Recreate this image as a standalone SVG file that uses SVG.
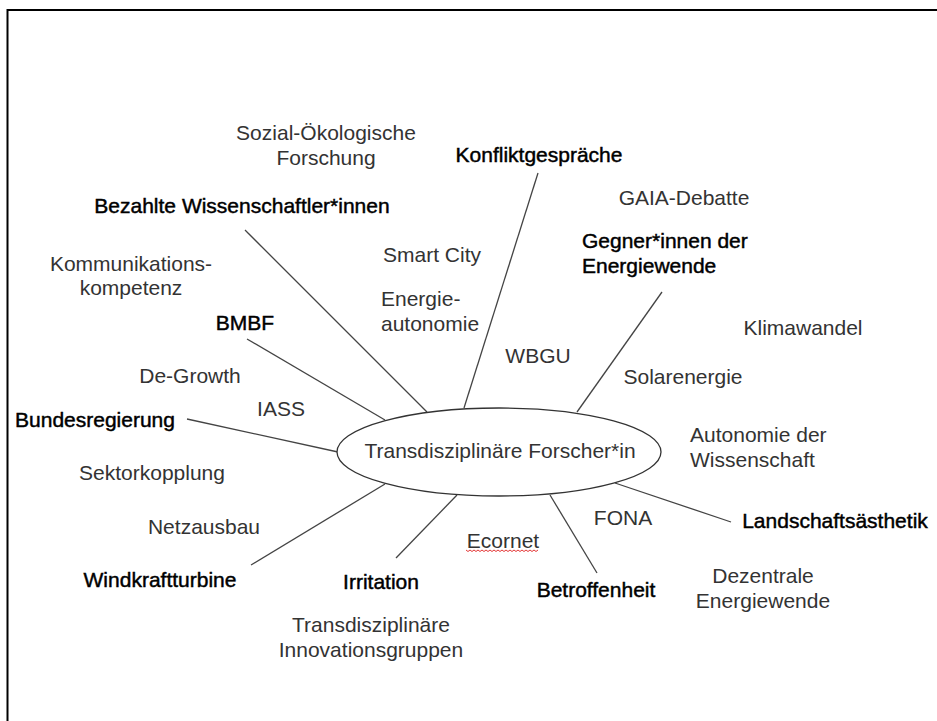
<svg xmlns="http://www.w3.org/2000/svg" width="937" height="721" viewBox="0 0 937 721">
<style>
text{font-family:"Liberation Sans",Arial,sans-serif;font-size:21px}
.n{fill:#333}
.b{fill:#000;stroke:#000;stroke-width:0.45}
.c{text-anchor:middle}
.conn line{stroke:#444;stroke-width:1.3}
</style>
<rect width="937" height="721" fill="#fff"/>
<path d="M7.5,725 V10 H945" fill="none" stroke="#000" stroke-width="2"/>
<g id="connectors" class="conn">
<line x1="538" y1="173" x2="464" y2="408"/>
<line x1="662" y1="292" x2="577" y2="412"/>
<line x1="245" y1="230" x2="427" y2="412"/>
<line x1="247" y1="339" x2="385" y2="420"/>
<line x1="187" y1="419" x2="338" y2="452"/>
<line x1="251" y1="565" x2="385" y2="484"/>
<line x1="396" y1="558" x2="457" y2="495"/>
<line x1="550" y1="495" x2="597" y2="573"/>
<line x1="615" y1="483" x2="731" y2="522"/>
</g>
<g id="center">
<ellipse cx="499" cy="452" rx="162" ry="44" fill="#fff" stroke="#333" stroke-width="1.3"/>
<text class="n c" x="500" y="458">Transdisziplinäre Forscher*in</text>
</g>
<g id="sozial"><text class="n c" x="326" y="140">Sozial-Ökologische</text><text class="n c" x="326" y="165">Forschung</text></g>
<g id="konflikt"><text class="b c" x="539" y="162">Konfliktgespräche</text></g>
<g id="bezahlte"><text class="b c" x="242" y="213">Bezahlte Wissenschaftler*innen</text></g>
<g id="gaia"><text class="n c" x="684" y="205">GAIA-Debatte</text></g>
<g id="gegner"><text class="b" x="582" y="248">Gegner*innen der</text><text class="b" x="582" y="273">Energiewende</text></g>
<g id="smartcity"><text class="n c" x="432" y="262">Smart City</text></g>
<g id="kommunikation"><text class="n c" x="131" y="271">Kommunikations-</text><text class="n c" x="131" y="295">kompetenz</text></g>
<g id="klimawandel"><text class="n c" x="803" y="335">Klimawandel</text></g>
<g id="energieautonomie"><text class="n" x="381" y="306">Energie-</text><text class="n" x="381" y="331">autonomie</text></g>
<g id="bmbf"><text class="b c" x="245" y="330">BMBF</text></g>
<g id="wbgu"><text class="n c" x="538" y="363">WBGU</text></g>
<g id="degrowth"><text class="n c" x="190" y="383">De-Growth</text></g>
<g id="solarenergie"><text class="n c" x="683" y="384">Solarenergie</text></g>
<g id="iass"><text class="n c" x="281" y="416">IASS</text></g>
<g id="bundesregierung"><text class="b c" x="95" y="427">Bundesregierung</text></g>
<g id="autonomie"><text class="n" x="690" y="442">Autonomie der</text><text class="n" x="690" y="467">Wissenschaft</text></g>
<g id="sektorkopplung"><text class="n c" x="152" y="480">Sektorkopplung</text></g>
<g id="fona"><text class="n c" x="623" y="525">FONA</text></g>
<g id="landschaft"><text class="b c" x="835" y="528">Landschaftsästhetik</text></g>
<g id="netzausbau"><text class="n c" x="204" y="534">Netzausbau</text></g>
<g id="ecornet"><text class="n c" x="503" y="548">Ecornet</text>
<path d="M466,550 l2,1.5 l2,-1.5 l2,1.5 l2,-1.5 l2,1.5 l2,-1.5 l2,1.5 l2,-1.5 l2,1.5 l2,-1.5 l2,1.5 l2,-1.5 l2,1.5 l2,-1.5 l2,1.5 l2,-1.5 l2,1.5 l2,-1.5 l2,1.5 l2,-1.5 l2,1.5 l2,-1.5 l2,1.5 l2,-1.5 l2,1.5 l2,-1.5 l2,1.5 l2,-1.5 l2,1.5 l2,-1.5 l2,1.5 l2,-1.5 l2,1.5 l2,-1.5 l2,1.5 l2,-1.5" fill="none" stroke="#e02020" stroke-width="0.9"/></g>
<g id="dezentrale"><text class="n c" x="763" y="583">Dezentrale</text><text class="n c" x="763" y="608">Energiewende</text></g>
<g id="windkraft"><text class="b c" x="160" y="587">Windkraftturbine</text></g>
<g id="irritation"><text class="b c" x="381" y="589">Irritation</text></g>
<g id="betroffenheit"><text class="b c" x="596" y="597">Betroffenheit</text></g>
<g id="innovationsgruppen"><text class="n c" x="371" y="632">Transdisziplinäre</text><text class="n c" x="371" y="657">Innovationsgruppen</text></g>
</svg>
